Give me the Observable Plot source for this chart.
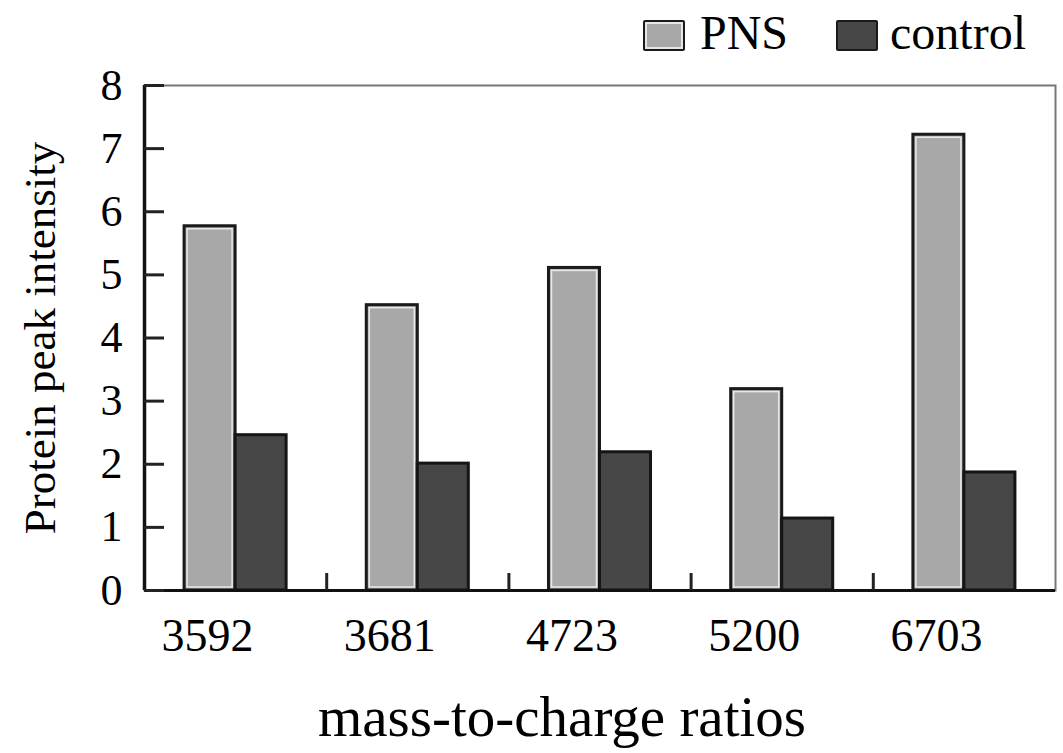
<!DOCTYPE html>
<html>
<head>
<meta charset="utf-8">
<script src="https://cdn.jsdelivr.net/npm/d3@7"></script>
<script src="https://cdn.jsdelivr.net/npm/@observablehq/plot@0.6"></script>
<style>
  body { margin: 0; background: #fff; font-family: "Liberation Serif", "Times New Roman", serif; }
  #wrap { position: relative; width: 1063px; height: 753px; }
  #legend { position: relative; width: 1063px; height: 55px; }
  .sw { position: absolute; top: 20px; width: 38px; height: 27px; border: 2px solid #1a1a1a; border-radius: 2px; }
  .lab { position: absolute; top: 5px; font-size: 48px; line-height: 56px; color: #000; }
  svg { display: block; }
</style>
</head>
<body>
<div id="wrap">
  <div id="legend">
    <div class="sw" style="left:643px; background:#a8a8a8; box-shadow: inset 0 0 0 2px #e6e6e6;"></div>
    <div class="lab" style="left:700px;">PNS</div>
    <div class="sw" style="left:836px; background:#474747;"></div>
    <div class="lab" style="left:890px;">control</div>
  </div>
  <div id="chart"></div>
</div>
<script>
const categories = ["3592", "3681", "4723", "5200", "6703"];
const pns = [5.77, 4.52, 5.11, 3.19, 7.22];
const control = [2.46, 2.01, 2.19, 1.14, 1.87];
const yTicks = [0, 1, 2, 3, 4, 5, 6, 7, 8];

const barW = 0.28;
const pnsData = categories.map((c, i) => ({i, c, v: pns[i]}));
const ctlData = categories.map((c, i) => ({i, c, v: control[i]}));
const boundaries = categories.slice(1).map((c, i) => i + 0.5);

const font = '"Liberation Serif", "Times New Roman", serif';

const chart = Plot.plot({
  width: 1063,
  height: 698,
  marginTop: 30,
  marginBottom: 163,
  marginLeft: 144,
  marginRight: 8,
  style: {fontFamily: font, color: "#000", background: "#fff", overflow: "visible"},
  x: {domain: [-0.5, categories.length - 0.5]},
  y: {domain: [0, 8]},
  marks: [
    Plot.frame({stroke: "#777", strokeWidth: 2}),
    Plot.rectY(pnsData, {x1: d => d.i - barW, x2: d => d.i, y1: 0, y2: "v", fill: "#a8a8a8", stroke: "#1a1a1a", strokeWidth: 3}),
    Plot.rectY(pnsData, {x1: d => d.i - barW, x2: d => d.i, y1: 0, y2: "v", fill: "none", stroke: "#e8e8e8", strokeWidth: 1.5, inset: 3}),
    Plot.rectY(ctlData, {x1: d => d.i, x2: d => d.i + barW, y1: 0, y2: "v", fill: "#474747", stroke: "#151515", strokeWidth: 3}),
    Plot.ruleY([0], {stroke: "#111", strokeWidth: 3}),
    Plot.ruleX([-0.5], {stroke: "#111", strokeWidth: 3.5}),
    Plot.axisY({ticks: yTicks, tickSize: 0, tickPadding: 22, fontSize: 44, tickFormat: d => String(d), label: null}),
    Plot.axisY({ticks: yTicks, tickSize: -20, text: null, stroke: "#222", strokeWidth: 3, label: null}),
    Plot.axisX({ticks: categories.map((c, i) => i), tickFormat: i => categories[i], tickSize: 0, tickPadding: 28, fontSize: 46, dx: -28, label: null}),
    Plot.axisX({ticks: boundaries, tickSize: -17, text: null, stroke: "#222", strokeWidth: 3, label: null}),
    Plot.text(["mass-to-charge ratios"], {frameAnchor: "bottom", lineAnchor: "bottom", dy: 145, dx: -38, fontSize: 57, fill: "#000"}),
    Plot.text(["Protein peak intensity"], {frameAnchor: "left", rotate: -90, textAnchor: "middle", lineAnchor: "middle", dx: -104, fontSize: 45, fill: "#000"})
  ]
});
document.getElementById("chart").appendChild(chart);
</script>
</body>
</html>
